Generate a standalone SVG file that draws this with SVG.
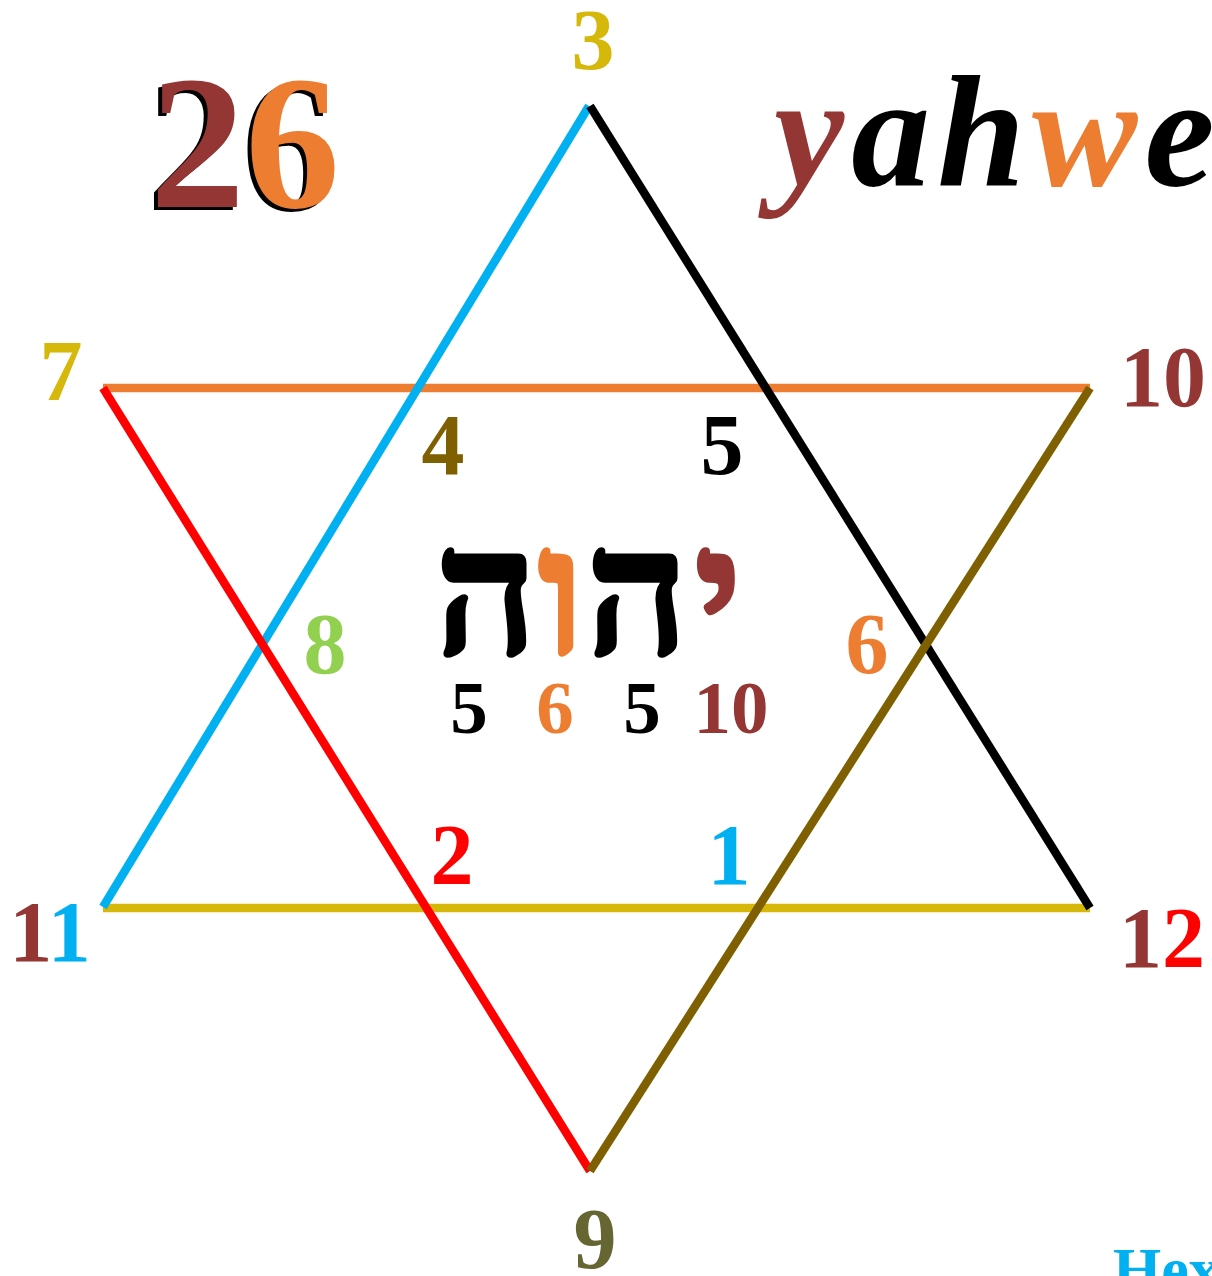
<svg xmlns="http://www.w3.org/2000/svg" width="1212" height="1276" viewBox="0 0 1212 1276">
<style>
.n{font-family:"Liberation Serif","Times New Roman",serif;font-weight:bold;font-size:86px;text-anchor:middle}
.r{font-family:"Liberation Serif","Times New Roman",serif;font-weight:bold;font-size:75px;text-anchor:middle}
.heb{font-family:"Liberation Serif","DejaVu Serif","Noto Sans",serif;font-weight:bold;font-size:176px;text-anchor:middle;stroke-width:5;stroke-linejoin:miter}
.ln{fill:none;stroke-width:8.5;stroke-linecap:butt}
</style>
<rect width="1212" height="1276" fill="#ffffff"/>
<g id="connectors">
<line class="ln" x1="103" y1="388" x2="1090" y2="388" stroke="#ED7D31"/>
<line class="ln" x1="103" y1="908" x2="1090" y2="908" stroke="#D6B80A"/>
<line class="ln" x1="589" y1="106" x2="103" y2="907" stroke="#00B0F0"/>
<line class="ln" x1="590" y1="106" x2="1090" y2="908" stroke="#000000"/>
<line class="ln" x1="103" y1="388" x2="590" y2="1171" stroke="#FF0000"/>
<line class="ln" x1="1090" y1="388" x2="590" y2="1171" stroke="#7F6000"/>
</g>
<g id="title26">
<text x="146" y="210" font-family="'Liberation Serif',serif" font-weight="bold" font-size="190" fill="#000">26</text>
<text x="150" y="207" font-family="'Liberation Serif',serif" font-weight="bold" font-size="190"><tspan fill="#943634">2</tspan><tspan fill="#ED7D31">6</tspan></text>
</g>
<g id="yahweh">
<text x="774" y="185" font-family="'Liberation Serif',serif" font-weight="bold" font-style="italic" font-size="158" letter-spacing="7"><tspan fill="#943634">y</tspan><tspan fill="#000">ah</tspan><tspan fill="#ED7D31">w</tspan><tspan fill="#000">eh</tspan></text>
</g>
<g id="node3"><text class="n" x="593" y="69" fill="#D6B80A">3</text></g>
<g id="node7"><text class="n" x="61" y="400" fill="#D6B80A">7</text></g>
<g id="node10"><text class="n" x="1163" y="406" fill="#943634">10</text></g>
<g id="node11"><text class="n" x="50" y="961"><tspan fill="#943634">1</tspan><tspan fill="#00B0F0">1</tspan></text></g>
<g id="node12"><text class="n" x="1162" y="967"><tspan fill="#943634">1</tspan><tspan fill="#FF0000">2</tspan></text></g>
<g id="node9"><text class="n" x="595" y="1268" fill="#666633">9</text></g>
<g id="node4"><text class="n" x="443" y="474" fill="#7F6000">4</text></g>
<g id="node5"><text class="n" x="722" y="474" fill="#000">5</text></g>
<g id="node8"><text class="n" x="325" y="673" fill="#92D050">8</text></g>
<g id="node6"><text class="n" x="867" y="673" fill="#ED7D31">6</text></g>
<g id="node2"><text class="n" x="452" y="884" fill="#FF0000">2</text></g>
<g id="node1"><text class="n" x="729" y="884" fill="#00B0F0">1</text></g>
<g id="hebrew">
<text class="heb" x="486" y="653" fill="#000" stroke="#000">ה</text>
<text class="heb" x="561" y="653" fill="#ED7D31" stroke="#ED7D31">ו</text>
<text class="heb" x="637" y="653" fill="#000" stroke="#000">ה</text>
<text class="heb" x="718" y="653" fill="#943634" stroke="#943634">י</text>
</g>
<g id="values">
<text class="r" x="469" y="733" fill="#000">5</text>
<text class="r" x="555" y="733" fill="#ED7D31">6</text>
<text class="r" x="642" y="733" fill="#000">5</text>
<text class="r" x="731" y="733" fill="#943634">10</text>
</g>
<g id="hexagram">
<text x="1113" y="1290" font-family="'Liberation Serif',serif" font-weight="bold" font-size="62" fill="#00B0F0">Hexagram</text>
</g>
</svg>
